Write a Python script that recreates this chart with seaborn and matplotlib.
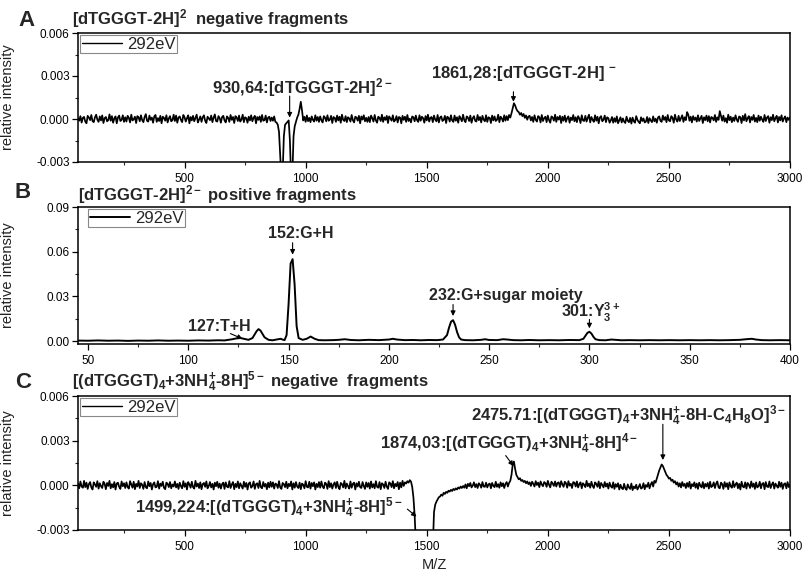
import numpy as np
import pandas as pd
import matplotlib
matplotlib.use("Agg")
import matplotlib.pyplot as plt
import seaborn as sns
from matplotlib.ticker import MultipleLocator, FixedLocator, FixedFormatter

# ---------------- data ----------------
# Panel A: [dTGGGT-2H]2- negative fragments (292 eV); m/z sampled every 5 from 60
a_mz_start = 60
a_mz_step = 5
a_int_e5 = [  # relative intensity in units of 1e-5
    5, -12, 20, -25, 8, 15, -18, -30, 22, 10, -8, 28, -15, -22, 12, 30, -5, -20, 18, -10,
    25, -28, 6, 14, -16, -8, 32, -12, 20, -26, 4, 18, -30, 10, 24, -14, -6, 26, -20, 12,
    -18, 22, 8, -24, 30, -10, -2, 16, -28, 20, 12, -16, 26, -8, -22, 14, 34, -12, -18, 24,
    -6, 10, -26, 18, 28, -20, 6, -14, 22, -30, 16, 8, -12, 26, -24, 4, 20, -16, -8, 30,
    -14, 24, -26, 10, 18, -6, -22, 28, 12, -18, 6, 26, -30, 14, -10, 22, -16, 8, 30, -24,
    -4, 18, -20, 12, 26, -12, -28, 16, 4, -8, 24, -22, 10, 32, -14, -18, 20, 6, -26, 14,
    22, -10, -24, 18, 8, -20, 28, -6, 14, -28, 20, 10, -14, 24, -18, -4, 30, -22, 12, 6,
    -26, 16, -10, 26, -16, 8, 22, -30, 14, -6, 18, -20, 28, -12, -8, 24, -24, 10, 16, -14,
    10, -12, 18, -20, -25, -40, -90, -250, -420, -380, -120, -40, -30, -20, -10, -150, -420, -400, -120, -50,
    -20, 10, 30, 70, 120, 60, -10, 15, -20, 25, -15, 8, -22, 18, -6, -18, 26, -12, 14, -20,
    18, -8, -24, 20, 10, -16, 26, -12, -4, 22, -28, 14, 8, -20, 24, -10, 16, -26, 30, -6,
    -14, 20, -22, 12, 4, -18, 28, -8, -24, 16, 10, -12, 22, -30, 18, -4, 26, -16, 8, -20,
    14, -22, 24, 6, -18, 28, -10, -26, 16, 8, -14, 30, -20, 12, -6, 22, -28, 18, 4, -12,
    26, -18, -8, 20, -24, 14, 10, -30, 22, -6, 16, -20, 28, -14, 2, -24, 18, 12, -16, 24,
    -8, -20, 26, -12, 16, 6, -26, 20, -10, 30, -18, 8, 14, -22, 24, -4, -16, 28, -24, 10,
    18, -14, -6, 22, -28, 16, 8, -18, 26, -10, -20, 24, -12, 12, -26, 20, 4, -16, 30, -8,
    -22, 18, 10, -14, 24, -26, 6, 20, -12, -18, 28, -8, 14, -24, 22, -4, -16, 26, -20, 12,
    8, -28, 24, -10, 18, -14, -6, 30, -22, 16, 4, -18, 26, -12, 20, -8, 28, 10, 40, 75,
    110, 95, 70, 55, 48, 30, 42, 20, 35, 8, 25, -5, 18, 22, -10, 14, -20, 26, -6, -18,
    20, 12, -24, 28, -14, 6, 16, -22, 24, -8, -26, 18, 10, -12, 30, -20, 14, -4, 22, -28,
    16, -12, 24, -20, 6, 18, -26, 10, -8, 28, -16, 12, -22, 20, 4, -28, 26, -10, -14, 22,
    -18, 8, 30, -24, 14, -6, -20, 26, -12, 16, -30, 10, 20, -16, -4, 24, -22, 12, 6, -26,
    -10, 14, -26, 6, -20, 18, -30, -8, 12, -24, 4, -18, -28, 16, -12, -22, 8, -32, 10, -16,
    -26, 20, -6, -20, -30, 12, -14, 4, -24, -18, 14, -28, 6, -10, -22, 18, -16, 2, -26, 10,
    18, -12, -20, 24, -6, 14, -22, 28, -10, -16, 20, 8, -26, 30, -4, -18, 22, -14, 6, 26,
    -20, 12, -8, 48, 30, -12, 16, -24, 20, -6, 10, -18, 26, -14, 4, 22, -28, 12, -8, 24,
    -16, 20, -24, 14, 8, -10, 28, -20, 12, -6, 55, 20, -12, 24, -18, 6, -26, 30, -8, 16,
    -22, 10, -14, 26, -4, -20, 18, 12, -28, 22, -10, 34, -16, 6, 20, -24, 14, -6, 28, -18,
    8, -22, 24, -12, 16, -4, -20, 28, -14, 10, 20, -26, 12, -8, 30, -16, 6, 22, -24, 14,
    -10, 26, -18, 4, 18, -22, 10, -6, 12,
]

# Panel B: [dTGGGT-2H]2- positive fragments (292 eV)
b_mz = [45, 50, 55, 60, 65, 70, 75, 80, 85, 90, 95, 100, 105, 110, 115, 118, 120, 122, 124, 126,
        128, 130, 132, 134, 135, 136, 138, 140, 142, 144, 146, 147, 148, 149, 150, 151, 152, 153, 154, 155,
        157, 159, 161, 163, 165, 168, 172, 175, 178, 181, 185, 190, 195, 200, 202, 204, 208, 212, 216, 220,
        224, 227, 229, 230, 231, 232, 233, 234, 235, 236, 238, 242, 246, 248, 250, 254, 257, 259, 262, 266,
        270, 275, 280, 285, 290, 295, 297, 298, 299, 300, 301, 302, 303, 305, 308, 311, 313, 316, 320, 325,
        330, 335, 340, 345, 350, 355, 360, 365, 370, 375, 378, 381, 383, 386, 390, 395, 400]
b_int_e4 = [3, 2, 4, 2, 3, 1, 3, 2, 4, 2, 3, 2, 4, 3, 5, 4, 8, 12, 18, 20,
            14, 8, 20, 65, 80, 70, 25, 8, 5, 10, 15, 10, 6, 40, 250, 520, 550, 380, 100, 20,
            8, 15, 30, 15, 6, 5, 6, 8, 12, 7, 5, 8, 6, 10, 15, 10, 6, 7, 5, 7,
            6, 10, 40, 90, 130, 140, 110, 60, 25, 10, 6, 5, 8, 12, 7, 6, 12, 10, 6, 5,
            7, 5, 6, 5, 7, 6, 15, 35, 55, 62, 50, 28, 12, 6, 5, 10, 8, 5, 6, 5,
            6, 5, 6, 5, 6, 5, 6, 5, 6, 8, 12, 15, 10, 6, 5, 6, 5]

# Panel C: [(dTGGGT)4+3NH4+-8H]5- negative fragments (292 eV); m/z every 5 from 60
c_mz_start = 60
c_mz_step = 5
c_int_e5 = [
    12, -20, 26, -8, -16, 30, -12, 18, -24, 8, 22, -14, -28, 20, 6, -10, 28, -22, 14, -6,
    -18, 24, 10, -26, 16, -4, 30, -20, 8, -14, 22, -28, 12, 18, -10, -24, 26, -6, 14, -18,
    20, -12, -22, 28, 6, -16, 24, -26, 10, -8, 30, -18, 14, 4, -24, 22, -12, -20, 26, -6,
    16, -28, 8, 20, -14, -10, 28, -22, 12, -4, 24, -16, -26, 18, 10, -12, 22, -20, 6, -8,
    26, -14, 10, -24, 18, -6, -20, 28, -10, 14, -28, 22, 6, -16, 24, -12, -22, 30, -8, 12,
    -18, 20, -26, 8, 16, -10, 26, -20, -4, 22, -14, 10, -28, 18, -6, 24, -16, 12, -22, 8,
    18, -24, 20, -8, -14, 28, -18, 6, 22, -26, 10, -12, 26, -20, 14, -4, -22, 24, -10, 16,
    -28, 12, 20, -16, -6, 26, -24, 8, 14, -18, 30, -12, -20, 22, -8, 10, -26, 18, -14, 24,
    -10, 20, -22, 12, 6, -18, 28, -14, -24, 16, 8, -12, 24, -20, 10, -6, 26, -28, 14, -16,
    22, -8, -18, 18, -26, 12, 4, -20, 28, -10, -14, 24, -22, 16, -6, 20, -28, 10, -12, 22,
    -16, 26, -8, -20, 18, 10, -24, 28, -12, 14, -22, 6, 20, -18, 24, -10, -26, 16, 8, -14,
    30, -20, 12, -6, -22, 26, -16, 10, 18, -28, 14, -8, 24, -12, -18, 22, -4, -24, 20, -10,
    16, -22, 26, -14, 8, -20, 28, -10, -16, 22, -26, 14, 6, -18, 24, -8, -24, 20, 12, -12,
    28, -20, 10, -6, 22, -26, 18, -14, 30, -4, 20, 12, 28, 18, 35, 25, -10, -80, -200, -380,
    -450, -450, -450, -450, -450, -450, -450, -450, -450, -450, -450, -450, -450, -420, -180, -130, -110, -95, -80, -75,
    -62, -70, -50, -58, -44, -50, -36, -42, -30, -38, -24, -32, -20, -28, -14, -22, -8, -18, -4, -16,
    6, -20, 10, -6, 16, -14, -2, 20, -12, 8, -18, 14, 4, -16, 22, -8, -10, 18, -14, 6,
    12, -20, 16, -4, -12, 24, -10, 8, -16, 20, -6, 14, -18, 10, 22, -8, 16, 30, 70, 140,
    160, 110, 70, 55, 40, 48, 30, 36, 22, 30, 14, 26, 8, 20, -4, 24, 10, -8, 28, 2,
    18, -12, 26, 6, -6, 22, 14, -10, 30, 4, -14, 24, 12, -4, 26, -8, 16, 20, -12, 28,
    6, -10, 24, 14, -16, 28, -2, 10, -18, 22, 18, -8, 26, -14, 8, 20, -20, 14, 4, -12,
    30, -6, 12, -16, 24, -4, -18, 20, 10, -10, 26, -20, 16, 2, -14, 22, -8, 12, -22, 18,
    -6, -16, 20, -24, 8, -10, 14, -28, 4, -18, -26, 10, -20, -30, 6, -14, -24, 12, -32, -8,
    -20, 4, -28, -12, 8, -22, -16, 14, -26, 2, -10, 18, -20, 6, 22, -8, 30, 18, 45, 70,
    100, 120, 140, 130, 110, 90, 70, 60, 45, 50, 30, 38, 18, 28, 6, 20, -8, 14, -14, 22,
    -4, 10, -18, 16, -10, 24, -22, 8, -6, 20, -16, 12, -24, 18, -2, -14, 22, -20, 10, -8,
    16, -22, 24, -12, -4, 20, -18, 12, 26, -14, -20, 18, 8, -24, 22, -10, 14, -26, 20, -6,
    -16, 28, -12, 6, 18, -20, 10, -28, 24, -8, -14, 20, -22, 16, 4, -18, 26, -10, 12, -24,
    20, -14, -6, 24, -20, 10, 16, -26, 22, -8, -12, 26, -18, 6, 20, -22, 12, -4, -16, 24,
    -10, 18, -24, 8, 14, -20, 22, -12, 6,
]

series_label = "292eV"
mz_ticks = [500, 1000, 1500, 2000, 2500, 3000]
mz_ticklabels = ["500", "1000", "1500", "2000", "2500", "3000"]
neg_yticks = [-0.003, 0.0, 0.003, 0.006]
neg_yticklabels = ["-0.003", "0.000", "0.003", "0.006"]
b_xticks = [50, 100, 150, 200, 250, 300, 350, 400]
b_xticklabels = ["50", "100", "150", "200", "250", "300", "350", "400"]
b_yticks = [0.0, 0.03, 0.06, 0.09]
b_yticklabels = ["0.00", "0.03", "0.06", "0.09"]

dfA = pd.DataFrame({"mz": a_mz_start + a_mz_step * np.arange(len(a_int_e5)),
                    "intensity": np.array(a_int_e5) * 1e-5})
dfB = pd.DataFrame({"mz": b_mz, "intensity": np.array(b_int_e4) * 1e-4})
dfC = pd.DataFrame({"mz": c_mz_start + c_mz_step * np.arange(len(c_int_e5)),
                    "intensity": np.array(c_int_e5) * 1e-5})

# ---------------- style ----------------
sns.set_style("ticks")
plt.rcParams["font.family"] = ["Liberation Sans", "DejaVu Sans"]
plt.rcParams["mathtext.fontset"] = "custom"
plt.rcParams["mathtext.rm"] = "Liberation Sans"
plt.rcParams["mathtext.bf"] = "Liberation Sans:bold"
plt.rcParams["mathtext.it"] = "Liberation Sans:italic:bold"
plt.rcParams["mathtext.default"] = "bf"
plt.rcParams["axes.unicode_minus"] = False

W, H = 808, 573
fig = plt.figure(figsize=(W / 100, H / 100), dpi=100)
fig.patch.set_facecolor("white")


def box(left, top, right, bottom):
    return [left / W, 1 - bottom / H, (right - left) / W, (bottom - top) / H]


axA = fig.add_axes(box(78, 33, 790, 162))
axB = fig.add_axes(box(78, 207, 790, 344))
axC = fig.add_axes(box(78, 396, 790, 530))

sns.lineplot(data=dfA, x="mz", y="intensity", ax=axA, color="black", lw=1.25,
             label=series_label, estimator=None)
sns.lineplot(data=dfB, x="mz", y="intensity", ax=axB, color="black", lw=1.4,
             label=series_label, estimator=None)
sns.lineplot(data=dfC, x="mz", y="intensity", ax=axC, color="black", lw=1.25,
             label=series_label, estimator=None)

axA.set_xlim(60, 3000)
axA.set_ylim(-0.003, 0.006)
axC.set_xlim(60, 3000)
axC.set_ylim(-0.003, 0.006)
axB.set_xlim(45, 400)
axB.set_ylim(-0.002, 0.09)

for ax, xt, xtl, yt, ytl, xmin, ymin in [
    (axA, mz_ticks, mz_ticklabels, neg_yticks, neg_yticklabels, 250, 0.0015),
    (axB, b_xticks, b_xticklabels, b_yticks, b_yticklabels, 25, 0.015),
    (axC, mz_ticks, mz_ticklabels, neg_yticks, neg_yticklabels, 250, 0.0015),
]:
    ax.xaxis.set_major_locator(FixedLocator(xt))
    ax.xaxis.set_major_formatter(FixedFormatter(xtl))
    ax.yaxis.set_major_locator(FixedLocator(yt))
    ax.yaxis.set_major_formatter(FixedFormatter(ytl))
    ax.xaxis.set_minor_locator(MultipleLocator(xmin))
    ax.yaxis.set_minor_locator(MultipleLocator(ymin))
    for s in ax.spines.values():
        s.set_visible(True)
        s.set_linewidth(1.1)
        s.set_color("black")
    ax.tick_params(which="major", direction="out", length=4, width=0.9, labelsize=8.5,
                   colors="black", pad=2)
    ax.tick_params(axis="x", which="major", pad=4)
    ax.tick_params(which="minor", direction="out", length=2.2, width=0.8)
    ax.set_xlabel("")
    ax.set_ylabel("relative intensity", fontsize=10.5, color="#222222")
    ax.yaxis.set_label_coords(-0.088, 0.5)
    ax.set_facecolor("white")

axC.set_xlabel("M/Z", fontsize=10.5, color="#222222")
axC.xaxis.set_label_coords(0.5, -0.21)

# legends
for ax, x0, y0, hlw in [(axA, 0.003, 0.985, 1.0), (axB, 0.014, 0.985, 1.4),
                        (axC, 0.003, 0.985, 1.0)]:
    leg = ax.legend(loc="upper left", bbox_to_anchor=(x0, y0), frameon=True,
                    fancybox=False, edgecolor="#888888", framealpha=1, fontsize=12,
                    handlelength=2.4, handletextpad=0.3, borderpad=0.1,
                    borderaxespad=0)
    leg.get_frame().set_linewidth(0.8)
    for ln in leg.get_lines():
        ln.set_linewidth(hlw)

# panel letters and titles
fig.text(18 / W, 1 - 20 / H, "A", fontsize=16, fontweight="bold", va="center")
fig.text(15 / W, 1 - 192 / H, "B", fontsize=16, fontweight="bold", va="center")
fig.text(15 / W, 1 - 382 / H, "C", fontsize=16, fontweight="bold", va="center")
fig.text(72 / W, 1 - 19 / H, r"[dTGGGT-2H]$^{2}$  negative fragments",
         fontsize=12, fontweight="bold", va="center")
fig.text(78 / W, 1 - 195 / H, r"[dTGGGT-2H]$^{2-}$ positive fragments",
         fontsize=12, fontweight="bold", va="center")
fig.text(72 / W, 1 - 382 / H,
         r"[(dTGGGT)$_{4}$+3NH$_{4}^{+}$-8H]$^{5-}$ negative  fragments",
         fontsize=12, fontweight="bold", va="center")

arrow = dict(arrowstyle="-|>", color="black", lw=0.8, mutation_scale=7,
             shrinkA=0, shrinkB=0)
ann = dict(fontsize=12, fontweight="bold", va="center")
annb = dict(fontsize=11.5, fontweight="bold", va="center")

# Panel A annotations
axA.text(612, 0.0022, r"930,64:[dTGGGT-2H]$^{2-}$", **ann)
axA.annotate("", xy=(934, 0.0001), xytext=(934, 0.0016), arrowprops=arrow)
axA.text(1517, 0.0032, r"1861,28:[dTGGGT-2H] $^{-}$", **ann)
axA.annotate("", xy=(1858, 0.0012), xytext=(1858, 0.0019), arrowprops=arrow)

# Panel B annotations
axB.text(156, 0.072, "152:G+H", ha="center", **annb)
axB.annotate("", xy=(152, 0.058), xytext=(152, 0.066), arrowprops=arrow)
axB.text(100, 0.010, "127:T+H", **annb)
axB.annotate("", xy=(127, 0.0015), xytext=(121, 0.0050), arrowprops=arrow)
axB.text(220, 0.0305, "232:G+sugar moiety", **annb)
axB.annotate("", xy=(232, 0.0168), xytext=(232, 0.0245), arrowprops=arrow)
axB.text(286, 0.0195, r"301:Y$_{3}^{3+}$", **annb)
axB.annotate("", xy=(300, 0.0085), xytext=(300, 0.0145), arrowprops=arrow)

# Panel C annotations
axC.text(2985, 0.0047, r"2475.71:[(dTGGGT)$_{4}$+3NH$_{4}^{+}$-8H-C$_{4}$H$_{8}$O]$^{3-}$",
         ha="right", **ann)
axC.annotate("", xy=(2475, 0.0017), xytext=(2475, 0.0041), arrowprops=arrow)
axC.text(1306, 0.0028, r"1874,03:[(dTGGGT)$_{4}$+3NH$_{4}^{+}$-8H]$^{4-}$", **ann)
axC.annotate("", xy=(1858, 0.0013), xytext=(1826, 0.0020), arrowprops=arrow)
axC.text(295, -0.0015, r"1499,224:[(dTGGGT)$_{4}$+3NH$_{4}^{+}$-8H]$^{5-}$", **ann)
axC.annotate("", xy=(1458, -0.0021), xytext=(1420, -0.0016), arrowprops=arrow)

fig.savefig("out.png", dpi=100, facecolor="white")
